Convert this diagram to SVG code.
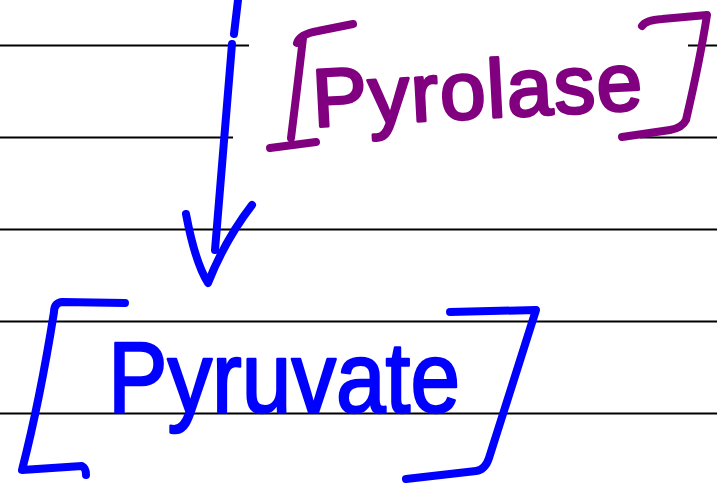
<svg xmlns="http://www.w3.org/2000/svg" width="717" height="487" viewBox="0 0 717 487">
<style>
.rule{stroke:#000;stroke-width:2;fill:none}
.pen{fill:none;stroke-width:8;stroke-linecap:round;stroke-linejoin:round}
.blue{stroke:#0000ff}
.purple{stroke:#800080}
.hand{font-family:"Liberation Sans","Open Sans",sans-serif;stroke-linejoin:round}
</style>
<rect width="717" height="487" fill="#fff"/>
<g id="rules">
<path class="rule" d="M0,45.5H249M688,45.5H717M0,137.5H233M640,137.5H717M0,229.5H717M0,321.5H717M0,413.5H717"/>
</g>
<g id="connectors">
<path class="pen blue" d="M238,0L234,34M232,44L215,250"/>
<path class="pen blue" d="M186,214Q195,262 208,283Q225,240 252,205"/>
</g>
<g id="pyrolase">
<path class="pen purple" d="M297,43Q300,34 318,31L353,24M303,38Q297,90 291,138M270,148L316,142"/>
<path class="pen purple" d="M642,26Q646,20 662,19L707,15Q700,60 686,120Q682,128 670,130L622,137"/>
<text class="hand" x="313" y="118" font-size="82" fill="#800080" stroke="#800080" stroke-width="3" textLength="330" lengthAdjust="spacing" transform="rotate(-3 480 110)">Pyrolase</text>
</g>
<g id="pyruvate">
<path class="pen blue" d="M125,303L62,302Q54,303 54,312Q40,400 22,470L82,466Q86,468 86,475"/>
<path class="pen blue" d="M450,312L536,310L489,458Q485,470 476,471L406,479"/>
<text class="hand" x="108" y="412" font-size="100" fill="#0000ff" stroke="#0000ff" stroke-width="2.5" textLength="352" lengthAdjust="spacingAndGlyphs">Pyruvate</text>
</g>
</svg>
